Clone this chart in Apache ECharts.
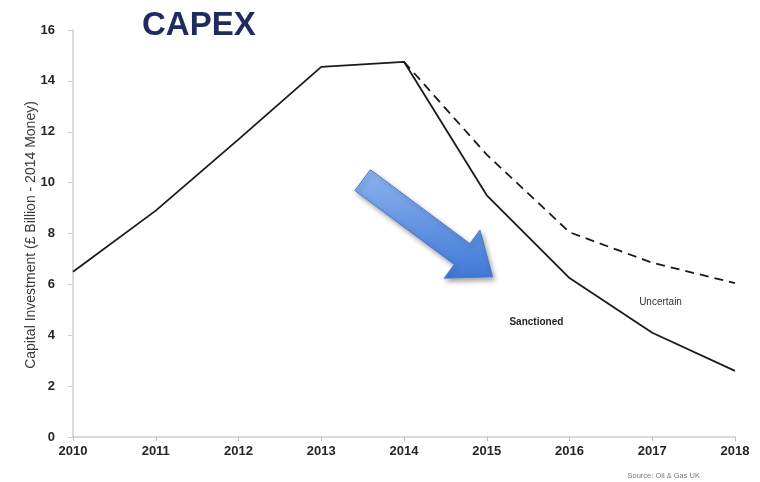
<!DOCTYPE html>
<html>
<head>
<meta charset="utf-8">
<script src="https://cdn.jsdelivr.net/npm/echarts@6/dist/echarts.min.js"></script>
<style>html,body{margin:0;padding:0;background:#fff;}#c{width:760px;height:482px;}</style>
</head>
<body>
<div id="c"></div>
<script>
const years = [2010, 2011, 2012, 2013, 2014, 2015, 2016, 2017, 2018];
const sanctioned = [6.5, 8.9, 11.7, 14.55, 14.75, 9.5, 6.25, 4.1, 2.6];
const uncertainYears = [2014, 2015, 2016, 2017, 2018];
const uncertain = [14.75, 11.1, 8.05, 6.85, 6.05];
const yTicks = [0, 2, 4, 6, 8, 10, 12, 14, 16];
const yTitle = 'Capital Investment (£ Billion - 2014 Money)';
// arrow annotation (data coordinates: tail centre, tip)
const arrowTail = [2013.5, 10.1];
const arrowTip = [2015.07, 6.3];

const chart = echarts.init(document.getElementById('c'));
const option = {
  animation: false,
  backgroundColor: '#ffffff',
  title: {
    text: 'CAPEX', left: 137, top: 4,
    textStyle: { fontFamily: 'Liberation Sans', fontWeight: 'bold', fontSize: 33, color: '#1f2b5c' }
  },
  grid: { left: 73, right: 25, top: 30, bottom: 45 },
  xAxis: {
    type: 'value', min: 2010, max: 2018, interval: 1,
    axisLine: { lineStyle: { color: '#cfcfcf', width: 1.5 } },
    axisTick: { show: true, length: 4, lineStyle: { color: '#bdbdbd' } },
    splitLine: { show: false },
    axisLabel: { formatter: v => String(v), fontFamily: 'Liberation Sans', fontWeight: 'bold', fontSize: 13, color: '#262626', margin: 8 }
  },
  yAxis: {
    type: 'value', min: 0, max: 16, interval: 2,
    axisLine: { show: true, lineStyle: { color: '#cfcfcf', width: 1.5 } },
    axisTick: { show: true, length: 5, lineStyle: { color: '#cfcfcf' } },
    splitLine: { show: false },
    axisLabel: { formatter: v => yTicks.includes(v) ? String(v) : '', fontFamily: 'Liberation Sans', fontWeight: 'bold', fontSize: 13, color: '#262626', margin: 18 }
  },
  series: [
    {
      name: 'Sanctioned', type: 'line', smooth: false, symbol: 'none',
      data: years.map((y, i) => [y, sanctioned[i]]),
      lineStyle: { color: '#1a1a1a', width: 1.8 }, z: 3
    },
    {
      name: 'Uncertain', type: 'line', smooth: false, symbol: 'none',
      data: uncertainYears.map((y, i) => [y, uncertain[i]]),
      lineStyle: { color: '#1a1a1a', width: 1.8, type: [9, 6] }, z: 2
    }
  ]
};
chart.setOption(option);

const t = chart.convertToPixel({ gridIndex: 0 }, arrowTail);
const p = chart.convertToPixel({ gridIndex: 0 }, arrowTip);
const dx = p[0] - t[0], dy = p[1] - t[1];
const L = Math.sqrt(dx * dx + dy * dy);
const ux = dx / L, uy = dy / L, vx = -uy, vy = ux;
const local = [[0, -13], [L - 38, -13], [L - 38, -30], [L, 0], [L - 38, 30], [L - 38, 13], [0, 13]];
const pts = local.map(([u, v]) => [t[0] + u * ux + v * vx, t[1] + u * uy + v * vy]);

const fy = chart.convertToPixel({ gridIndex: 0 }, [2015.6, 4.5]);
const uy2 = chart.convertToPixel({ gridIndex: 0 }, [2017.1, 5.3]);

chart.setOption({
  graphic: [
    {
      type: 'text', x: 31, y: 235, rotation: Math.PI / 2, z: 10,
      style: { text: yTitle, fontFamily: 'Liberation Sans', fontSize: 14, fill: '#3a3a3a', align: 'center', verticalAlign: 'middle' }
    },
    {
      type: 'polygon', shape: { points: pts }, z: 10,
      style: {
        fill: new echarts.graphic.LinearGradient(0, 0, 0, 1, [
          { offset: 0, color: '#8db4f0' }, { offset: 1, color: '#3f78d6' }
        ]),
        stroke: '#4a7bc8', lineWidth: 1,
        shadowBlur: 5, shadowColor: 'rgba(0,0,0,0.35)', shadowOffsetX: 2, shadowOffsetY: 3
      }
    },
    {
      type: 'text', x: fy[0], y: fy[1], z: 10,
      style: { text: 'Sanctioned', fontFamily: 'Liberation Sans', fontWeight: 'bold', fontSize: 10, fill: '#222', align: 'center', verticalAlign: 'middle' }
    },
    {
      type: 'text', x: uy2[0], y: uy2[1], z: 10,
      style: { text: 'Uncertain', fontFamily: 'Liberation Sans', fontSize: 10, fill: '#333', align: 'center', verticalAlign: 'middle' }
    },
    {
      type: 'text', right: 60, bottom: 2, z: 10,
      style: { text: 'Source: Oil & Gas UK', fontFamily: 'Liberation Sans', fontSize: 7.5, fill: '#777' }
    }
  ]
});
</script>
</body>
</html>
